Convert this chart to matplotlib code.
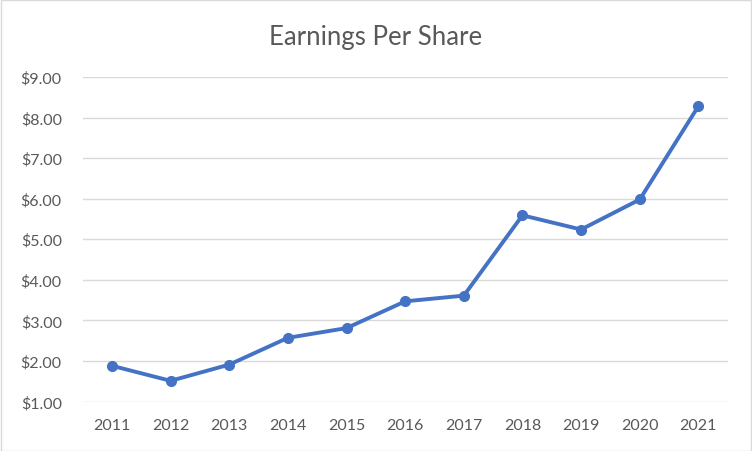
import matplotlib
matplotlib.use("Agg")
import matplotlib.pyplot as plt
from matplotlib.patches import Rectangle
from matplotlib.ticker import FuncFormatter

years = ["2011", "2012", "2013", "2014", "2015", "2016", "2017", "2018", "2019", "2020", "2021"]
eps = [1.88, 1.51, 1.91, 2.57, 2.81, 3.47, 3.61, 5.59, 5.24, 5.98, 8.28]
y_ticks = [1, 2, 3, 4, 5, 6, 7, 8, 9]

plt.rcParams['font.family'] = ['Lato', 'DejaVu Sans']
text_color = "#595959"

fig = plt.figure(figsize=(7.52, 4.52), dpi=100)
fig.patch.set_facecolor("white")
fig.add_artist(Rectangle((0.5 / 752, 0.5 / 452), 1 - 1.5 / 752, 1 - 1.5 / 452,
                         transform=fig.transFigure, fill=False, edgecolor="#D9D9D9", linewidth=1))

ax = fig.add_axes([82.7 / 752, (452 - 402.5) / 452, (727.7 - 82.7) / 752, (402.5 - 78) / 452])
x = list(range(len(years)))
ax.plot(x, eps, color="#4472C4", linewidth=2.8, marker="o", markersize=7,
        solid_joinstyle="round", solid_capstyle="round", zorder=3)

ax.set_xlim(-0.5, len(years) - 0.5)
ax.set_ylim(1, 9)
ax.set_yticks(y_ticks)
ax.yaxis.set_major_formatter(FuncFormatter(lambda v, p: f"${v:.2f}"))
ax.set_xticks(x)
ax.set_xticklabels(years)
ax.grid(axis="y", color="#D9D9D9", linewidth=1)
ax.set_axisbelow(True)
for s in ax.spines.values():
    s.set_visible(False)
ax.tick_params(axis="both", length=0, labelsize=11.5, labelcolor=text_color)
ax.tick_params(axis="y", pad=15)
ax.tick_params(axis="x", pad=12)

fig.text(0.5, 1 - 37 / 452, "Earnings Per Share", ha="center", va="center",
         fontsize=18.5, color=text_color)

fig.savefig("out.png", dpi=100)
